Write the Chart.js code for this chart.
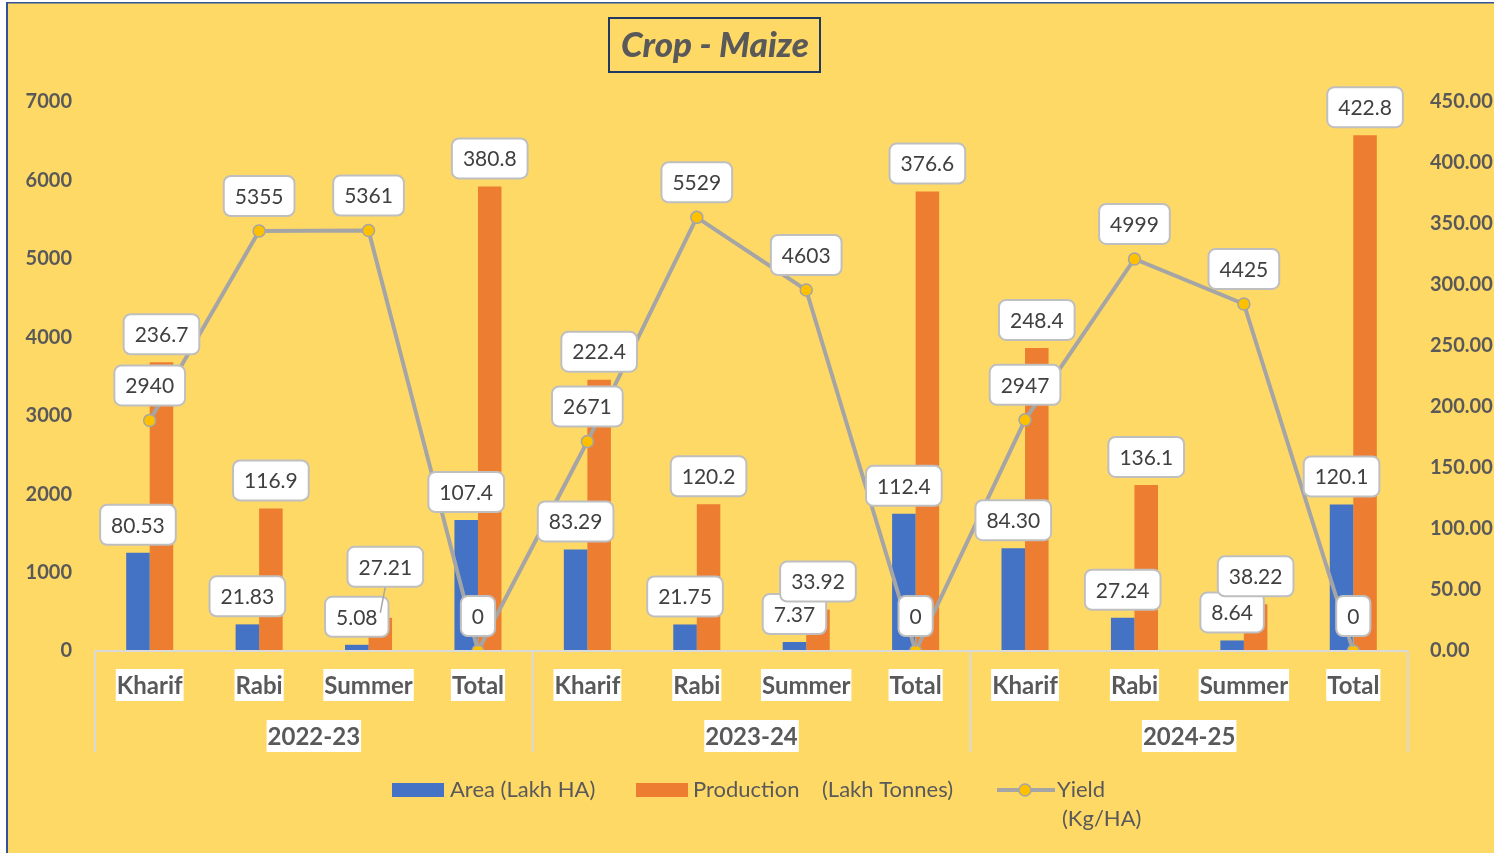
<!DOCTYPE html>
<html>
<head>
<meta charset="utf-8">
<script src="https://cdn.jsdelivr.net/npm/chart.js@4.4.1/dist/chart.umd.min.js"></script>
<style>
  html, body { margin: 0; padding: 0; background: #fff; }
  canvas { display: block; }
</style>
</head>
<body>
<canvas id="maize" width="1494" height="853"></canvas>
<script>
const years = ["2022-23", "2023-24", "2024-25"];
const seasons = ["Kharif", "Rabi", "Summer", "Total"];
const area = [80.53, 21.83, 5.08, 107.4, 83.29, 21.75, 7.37, 112.4, 84.30, 27.24, 8.64, 120.1];
const production = [236.7, 116.9, 27.21, 380.8, 222.4, 120.2, 33.92, 376.6, 248.4, 136.1, 38.22, 422.8];
const yieldKg = [2940, 5355, 5361, 0, 2671, 5529, 4603, 0, 2947, 4999, 4425, 0];
const yieldTicks = [0, 1000, 2000, 3000, 4000, 5000, 6000, 7000];
const barTicks = [0, 50, 100, 150, 200, 250, 300, 350, 400, 450];

const labels = years.flatMap((y) => seasons.map((s) => `${s} ${y}`));

const BG = "#FFD966";
const TXT = "#595959";
const FONT = "Lato, 'Open Sans', sans-serif";

const fmtBar = (v) => (v < 100 ? v.toFixed(2) : v.toFixed(1));
const fmtYield = (v) => String(v);

function roundRect(ctx, x, y, w, h, r) {
  ctx.beginPath();
  ctx.moveTo(x + r, y);
  ctx.arcTo(x + w, y, x + w, y + h, r);
  ctx.arcTo(x + w, y + h, x, y + h, r);
  ctx.arcTo(x, y + h, x, y, r);
  ctx.arcTo(x, y, x + w, y, r);
  ctx.closePath();
}

const backdrop = {
  id: "backdrop",
  beforeDraw(chart) {
    const { ctx, width, height } = chart;
    ctx.save();
    ctx.fillStyle = "#fff";
    ctx.fillRect(0, 0, width, height);
    ctx.fillStyle = BG;
    ctx.fillRect(6, 2, width - 6, height - 2);
    ctx.fillStyle = "#2F5597";
    ctx.fillRect(6, 2, 2, height - 2);
    ctx.fillRect(6, 2, width - 6, 1.5);
    ctx.restore();
  },
};

// value boxes, Excel style
const valueBoxes = {
  id: "valueBoxes",
  afterDatasetsDraw(chart) {
    const ctx = chart.ctx;
    ctx.save();
    ctx.font = `21px ${FONT}`;
    ctx.textAlign = "center";
    ctx.textBaseline = "middle";
    const order = [1, 2, 0];
    order.forEach((di) => {
      const ds = chart.data.datasets[di];
      const meta = chart.getDatasetMeta(di);
      meta.data.forEach((el, i) => {
        const v = ds.data[i];
        const text = ds.fmt(v);
        const shift = (ds.shift && ds.shift[i]) || null;
        const off = shift ? shift.dy : ds.labelOffset;
        const dx = shift ? shift.dx : 0;
        const cx = el.x + dx;
        const cy = el.y - off;
        const w = ctx.measureText(text).width + 22;
        const h = 40;
        if (shift || v === 0) {
          ctx.strokeStyle = "#A6A6A6";
          ctx.lineWidth = 1.5;
          ctx.beginPath();
          ctx.moveTo(cx, cy + h / 2);
          ctx.lineTo(el.x, el.y - (v === 0 ? 4 : 5));
          ctx.stroke();
        }
        roundRect(ctx, cx - w / 2, cy - h / 2, w, h, 7);
        ctx.fillStyle = "#fff";
        ctx.fill();
        ctx.strokeStyle = "#BFBFBF";
        ctx.lineWidth = 2;
        ctx.stroke();
        ctx.fillStyle = "#404040";
        ctx.fillText(text, cx, cy + 1);
      });
    });
    ctx.restore();
  },
};

// two level category axis, title and legend
const decorations = {
  id: "decorations",
  afterDraw(chart) {
    const { ctx, chartArea } = chart;
    const x = chart.scales.x;
    const step = x.getPixelForValue(1) - x.getPixelForValue(0);
    ctx.save();

    ctx.strokeStyle = "#D9D9D9";
    ctx.lineWidth = 2;
    ctx.beginPath();
    ctx.moveTo(chartArea.left, chartArea.bottom);
    ctx.lineTo(chartArea.right, chartArea.bottom);
    for (let g = 0; g <= years.length; g++) {
      const gx = x.getPixelForValue(g * seasons.length) - step / 2;
      ctx.moveTo(gx, chartArea.bottom);
      ctx.lineTo(gx, chartArea.bottom + 101);
    }
    ctx.stroke();

    ctx.textAlign = "center";
    ctx.textBaseline = "middle";
    ctx.font = `bold 24px ${FONT}`;
    labels.forEach((_, i) => {
      const s = seasons[i % seasons.length];
      const px = x.getPixelForValue(i);
      const w = ctx.measureText(s).width;
      ctx.fillStyle = "#fff";
      ctx.fillRect(px - w / 2 - 1, 669, w + 2, 32);
      ctx.fillStyle = TXT;
      ctx.fillText(s, px, 686);
    });
    years.forEach((y, g) => {
      const a = x.getPixelForValue(g * seasons.length);
      const b = x.getPixelForValue(g * seasons.length + seasons.length - 1);
      const px = (a + b) / 2;
      const w = ctx.measureText(y).width;
      ctx.fillStyle = "#fff";
      ctx.fillRect(px - w / 2 - 1, 720, w + 2, 32);
      ctx.fillStyle = TXT;
      ctx.fillText(y, px, 737);
    });

    // title
    ctx.font = `italic 900 35px ${FONT}`;
    ctx.strokeStyle = "#1F3864";
    ctx.lineWidth = 2;
    ctx.strokeRect(609, 18, 211, 54);
    ctx.fillStyle = TXT;
    ctx.fillText("Crop - Maize", 715, 46);

    // legend
    ctx.font = `22px ${FONT}`;
    ctx.textAlign = "left";
    ctx.fillStyle = "#4472C4";
    ctx.fillRect(392, 783, 52, 14);
    ctx.fillStyle = "#ED7D31";
    ctx.fillRect(636, 783, 52, 14);
    ctx.fillStyle = TXT;
    ctx.fillText("Area (Lakh HA)", 450, 790);
    ctx.fillText("Production", 693, 790);
    ctx.fillText("(Lakh Tonnes)", 822, 790);
    ctx.fillText("Yield", 1057, 790);
    ctx.fillText("(Kg/HA)", 1062, 819);
    ctx.strokeStyle = "#A5A5A5";
    ctx.lineWidth = 4;
    ctx.beginPath();
    ctx.moveTo(997, 790);
    ctx.lineTo(1055, 790);
    ctx.stroke();
    ctx.beginPath();
    ctx.arc(1025, 790, 6, 0, Math.PI * 2);
    ctx.fillStyle = "#FFC000";
    ctx.fill();
    ctx.lineWidth = 1.5;
    ctx.stroke();

    ctx.restore();
  },
};

new Chart(document.getElementById("maize"), {
  type: "bar",
  data: {
    labels,
    datasets: [
      {
        type: "line",
        label: "Yield (Kg/HA)",
        data: yieldKg,
        yAxisID: "yYield",
        borderColor: "#A5A5A5",
        borderWidth: 4,
        pointBackgroundColor: "#FFC000",
        pointBorderColor: "#A5A5A5",
        pointBorderWidth: 1.5,
        pointRadius: 6,
        tension: 0,
        order: 0,
        fmt: fmtYield,
        labelOffset: 35,
      },
      {
        label: "Area (Lakh HA)",
        data: area,
        yAxisID: "yBar",
        backgroundColor: "#4472C4",
        order: 1,
        fmt: fmtBar,
        labelOffset: 28,
      },
      {
        label: "Production (Lakh Tonnes)",
        data: production,
        yAxisID: "yBar",
        backgroundColor: "#ED7D31",
        order: 2,
        fmt: fmtBar,
        labelOffset: 28,
        shift: { 2: { dx: 5, dy: 51 } },
      },
    ],
  },
  options: {
    responsive: false,
    animation: false,
    datasets: { bar: { categoryPercentage: 0.43, barPercentage: 1 } },
    layout: { padding: { top: 102, left: 0, right: 0, bottom: 0 } },
    plugins: {
      legend: { display: false },
      title: { display: false },
      tooltip: { enabled: false },
    },
    scales: {
      x: {
        grid: { display: false },
        border: { display: false },
        ticks: { display: false },
        afterFit(s) { s.height = 202; },
      },
      yYield: {
        position: "left",
        min: 0,
        max: 7000,
        afterBuildTicks(s) { s.ticks = yieldTicks.map((v) => ({ value: v })); },
        grid: { display: false, drawTicks: false },
        border: { display: false },
        ticks: {
          padding: 23,
          color: TXT,
          font: { family: FONT, size: 20, weight: "bold" },
          callback: (v) => String(v),
        },
        afterFit(s) { s.width = 95; },
      },
      yBar: {
        position: "right",
        min: 0,
        max: 450,
        afterBuildTicks(s) { s.ticks = barTicks.map((v) => ({ value: v })); },
        grid: { display: false, drawTicks: false },
        border: { display: false },
        ticks: {
          padding: 22,
          color: TXT,
          font: { family: FONT, size: 20, weight: "bold" },
          callback: (v) => Number(v).toFixed(2),
        },
        afterFit(s) { s.width = 86; },
      },
    },
  },
  plugins: [backdrop, valueBoxes, decorations],
});
</script>
</body>
</html>
